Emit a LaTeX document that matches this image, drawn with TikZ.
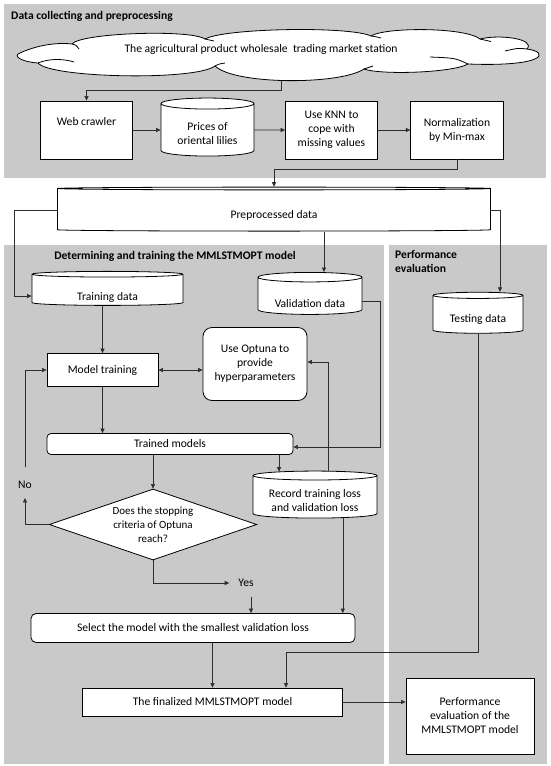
\documentclass[tikz,border=0pt]{standalone}
\usepackage{fontspec}
\setmainfont{Carlito}
\usetikzlibrary{shapes.geometric,arrows.meta,calc}
\definecolor{panel}{RGB}{201,201,201}
\definecolor{lncol}{RGB}{45,45,45}
\begin{document}
\begin{tikzpicture}[x=1pt,y=-1pt,
  font=\fontsize{11.6}{14}\selectfont,
  box/.style={draw=black, fill=white, line width=0.8pt, rectangle, inner sep=1pt, align=center},
  rbox/.style={box, rounded corners=6pt},
  db/.style={cylinder, shape border rotate=90, draw=black, fill=white, line width=0.8pt, inner sep=0pt, align=center},
  arr/.style={draw=lncol, line width=0.6pt, -{Triangle[length=4.5pt,width=4pt]}},
  dblarr/.style={draw=lncol, line width=0.6pt, {Triangle[length=4.5pt,width=4pt]}-{Triangle[length=4.5pt,width=4pt]}},
  ttl/.style={font=\fontsize{11.6}{14}\selectfont\bfseries, inner sep=0pt},
  lbl/.style={inner sep=0pt},
  cloudline/.style={draw=black, line width=0.8pt}]
\useasboundingbox (0,0) rectangle (550,766);
\fill[white] (0,0) rectangle (550,766);
% panels
\fill[panel] (4,3.5) rectangle (546,177.5);
\fill[panel] (4,245) rectangle (383.5,763.5);
\fill[panel] (388.5,245) rectangle (547,763.5);
% titles
\node[ttl, anchor=west] (t1) at (11,16) {Data collecting and preprocessing};
\node[ttl] (t2) at (175,256) {Determining and training the MMLSTMOPT model};
\node[ttl, anchor=north west, align=left] (t3) at (395,250) {Performance\\evaluation};
% cloud (drawn shape)
\path[cloudline, fill=white]
  (20,53) .. controls (35,46) and (55,42) .. (72,44)
  .. controls (80,33) and (190,29) .. (205,39)
  .. controls (225,28) and (350,26) .. (371,36)
  .. controls (385,27) and (465,27) .. (480,39)
  .. controls (500,34) and (536,39) .. (527,49)
  .. controls (550,52) and (546,67) .. (468,64)
  .. controls (452,73) and (380,75) .. (364,69)
  .. controls (340,85) and (235,85) .. (215,66)
  .. controls (195,81) and (50,78) .. (38,63)
  .. controls (22,62) and (12,56) .. (20,53) -- cycle;
\draw[cloudline] (72,44) .. controls (76,45) .. (79,49);
\draw[cloudline] (38,63) .. controls (50,58) and (65,59) .. (74,62);
\draw[cloudline] (205,39) .. controls (209,39.5) .. (214,41);
\draw[cloudline] (371,36) .. controls (375,36.5) .. (381,38);
\draw[cloudline] (480,39) .. controls (485,39.5) .. (491,41.5);
\draw[cloudline] (527,49) .. controls (518,48) .. (505,51);
\draw[cloudline] (468,64) .. controls (455,58) .. (430,57);
\draw[cloudline] (364,69) .. controls (368,67) .. (373,66);
\draw[cloudline] (215,66) .. controls (219,64) .. (225,63);
\node[lbl] (cloudtxt) at (261,49) {The agricultural product wholesale\ \ trading market station};
\coordinate (cloudbot) at (281,80.5);
% top row
\node[box, minimum width=92, minimum height=58, text depth=17pt] (web) at (86.5,130) {Web crawler};
\node[db, shape aspect=0.183, minimum width=93, minimum height=58,
      label={[align=center, inner sep=0pt, yshift=-4pt]center:Prices of\\oriental lilies}] (prices) at (207.5,130)
      {\phantom{Prices of}\\\phantom{oriental lilies}};
\node[box, minimum width=92, minimum height=58] (knn) at (331.5,130) {Use KNN to\\cope with\\missing values};
\node[box, minimum width=92.5, minimum height=58] (norm) at (457,130) {Normalization\\by Min-max};
% preprocessed
\node[db, shape aspect=0.032, minimum width=433, minimum height=44,
      label={[inner sep=0pt, yshift=-5pt]center:Preprocessed data}] (pre) at (274,210) {\phantom{Preprocessed data}};
% cylinders of the lower part
\node[db, shape aspect=0.093, minimum width=151, minimum height=34,
      label={[inner sep=0pt, yshift=-7pt]center:Training data}] (train) at (107.5,290) {\phantom{Training data}};
\node[db, shape aspect=0.135, minimum width=104, minimum height=42,
      label={[inner sep=0pt, yshift=-8pt]center:Validation data}] (valid) at (310,296) {\phantom{Validation data}};
\node[db, shape aspect=0.11, minimum width=90, minimum height=41,
      label={[inner sep=0pt, yshift=-5pt]center:Testing data}] (test) at (478,314.5) {\phantom{Testing data}};
% middle flow
\node[box, minimum width=111, minimum height=33] (model) at (102.5,370) {Model training};
\node[rbox, rounded corners=9pt, minimum width=104, minimum height=73] (optuna) at (255,364) {Use Optuna to\\provide\\hyperparameters};
\node[rbox, rounded corners=4pt, minimum width=246, minimum height=21] (trained) at (170,444) {Trained models};
\node[diamond, draw=black, fill=white, line width=0.8pt, aspect=2.92, minimum width=207.5, minimum height=71,
      inner sep=0pt, align=center, font=\fontsize{11}{14}\selectfont] (dia) at (153,524.5) {Does the stopping\\criteria of Optuna\\reach?};
\node[db, shape aspect=0.097, minimum width=124, minimum height=47,
      label={[align=center, inner sep=0pt, yshift=-4pt]center:Record training loss\\and validation loss}] (record) at (315,497)
      {\phantom{Record training loss}\\\phantom{and validation loss}};
\node[lbl] (no) at (25,485) {No};
\node[lbl] (yes) at (246,583) {Yes};
\node[rbox, rounded corners=5pt, minimum width=324, minimum height=29] (select) at (193,628) {Select the model with the smallest validation loss};
\node[box, minimum width=260.5, minimum height=28] (final) at (212.5,702) {The finalized MMLSTMOPT model};
\node[box, minimum width=128, minimum height=76] (perf) at (470,716) {Performance\\evaluation of the\\MMLSTMOPT model};
% connectors top
\draw[arr] (cloudbot) |- ($(web.north)+(0,-10)$) -- (web.north);
\draw[arr] (web) -- (prices);
\draw[arr] (prices) -- (knn);
\draw[arr] (knn) -- (norm);
\draw[arr] (norm.south) -- ++(0,10) -| (pre.north);
\draw[arr] (pre.west) -- ++(-42.5,0) |- ([yshift=-6pt]train.west);
\draw[arr] (pre.east) -| ([xshift=22pt]test.north);
\draw[arr] ([xshift=50pt]pre.south) -- ([xshift=50pt]pre.south |- valid.north);
\draw[arr] ([yshift=-5pt]valid.east) -- ++(18,0) |- ([yshift=-3pt]trained.east);
\draw[arr] (test.south) |- ([xshift=73.5pt,yshift=35pt]final.north) -- ([xshift=73.5pt]final.north);
% middle connectors
\draw[arr] (train.south -| model.north) -- (model.north);
\draw[dblarr] (model.east) -- (optuna.west |- model.east);
\draw[arr] ([xshift=13.6pt]record.north) |- ([yshift=2pt]optuna.east);
\draw[arr] (model.south) -- (model.south |- trained.north);
\draw[arr] (trained.south -| dia.north) -- (dia.north);
\draw[arr] ([xshift=-36pt]record.north |- trained.south) -- ([xshift=-36pt,yshift=-1pt]record.north);
\draw[arr] ([xshift=27.8pt]record.south) -- ([xshift=27.8pt]record.south |- select.north);
\draw[arr] (dia.west) -| ([yshift=-9pt]no.south);
\draw[arr] ([yshift=14pt]no.north) |- (model.west);
\draw[arr] (dia.south) |- ([xshift=-9pt]yes.west);
\draw[arr] ([xshift=5pt,yshift=-10pt]yes.south) -- ([xshift=5pt]yes.south |- select.north);
\draw[arr] (select.south -| final.north) -- (final.north);
\draw[arr] (final.east) -- (final.east -| perf.west);
\end{tikzpicture}
\end{document}
